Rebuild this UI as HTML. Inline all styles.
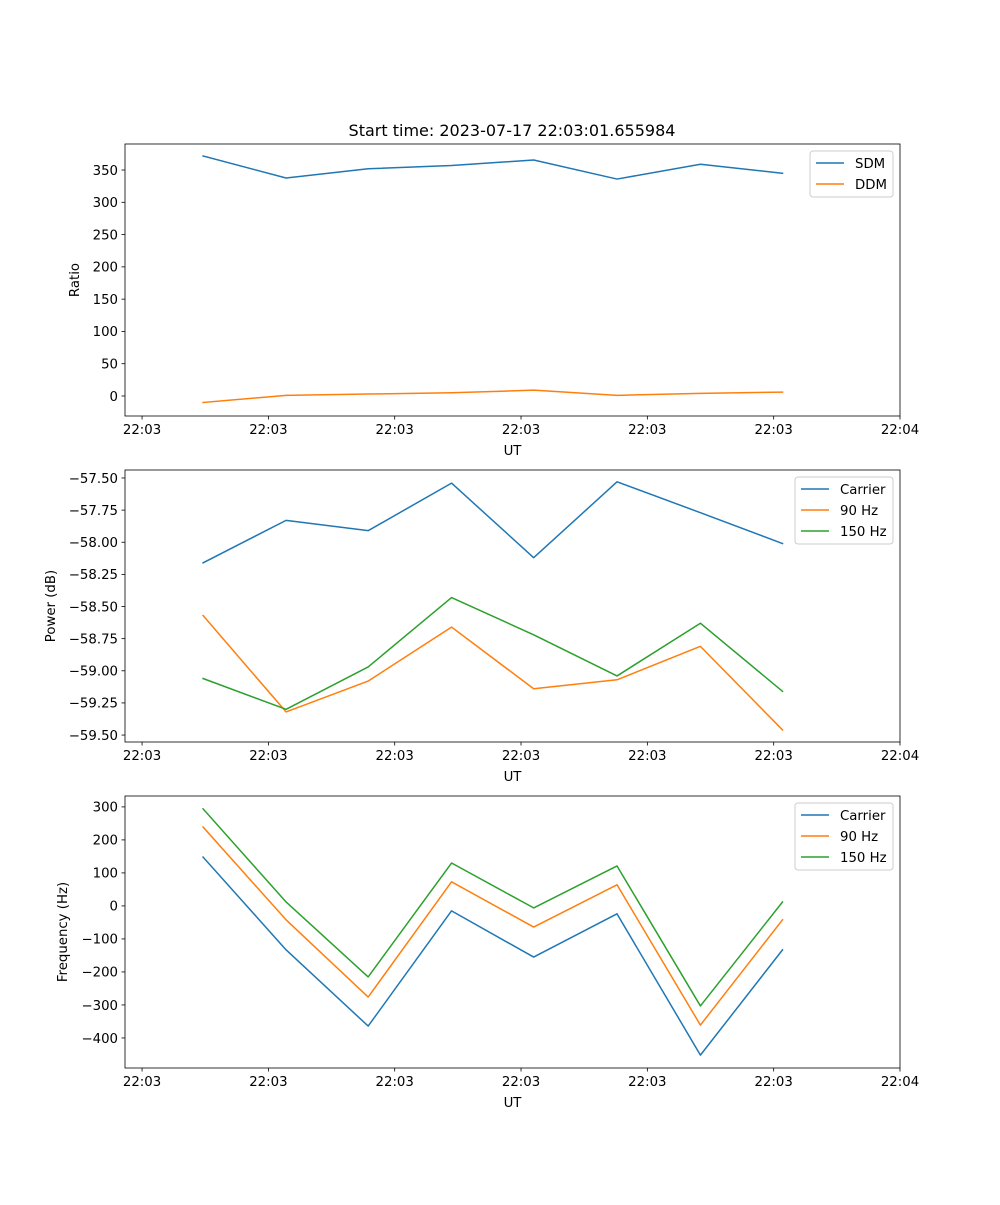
<!DOCTYPE html>
<html><head><meta charset="utf-8">
<style>
html,body{margin:0;padding:0;background:#fff;}
svg text{font-family:"DejaVu Sans","Liberation Sans",sans-serif;font-size:13.3px;fill:#000;}
</style></head>
<body>
<svg id="fig" width="1000" height="1200" xmlns="http://www.w3.org/2000/svg">
<rect width="1000" height="1200" fill="#fff"/>
<text x="512" y="136" text-anchor="middle" style="font-size:16px">Start time: 2023-07-17 22:03:01.655984</text>
</svg>
<script>
// time in seconds after 22:03:00
const times = [4.83, 11.4, 17.9, 24.5, 31.0, 37.6, 44.2, 50.7];
const xTickVals = [0, 10, 20, 30, 40, 50, 60];
const xTickLabels = ["22:03","22:03","22:03","22:03","22:03","22:03","22:04"];

const sdm = [371.7, 337.6, 352, 357, 365.5, 336, 359, 345];
const ddm = [-10, 1, 3, 5, 9, 1, 4, 6];
const ratioTicks = [0, 50, 100, 150, 200, 250, 300, 350];

const pCarrier = [-58.16, -57.83, -57.91, -57.54, -58.12, -57.53, -57.77, -58.01];
const p90 = [-58.57, -59.32, -59.08, -58.66, -59.14, -59.07, -58.81, -59.46];
const p150 = [-59.06, -59.30, -58.97, -58.43, -58.72, -59.04, -58.63, -59.16];
const powerTicks = [-59.5, -59.25, -59.0, -58.75, -58.5, -58.25, -58.0, -57.75, -57.5];

const fCarrier = [148, -133, -364, -15, -155, -24, -452, -133];
const f90 = [239, -42, -276, 73, -64, 64, -361, -42];
const f150 = [294, 12, -215, 130, -6, 121, -303, 12];
const freqTicks = [-400, -300, -200, -100, 0, 100, 200, 300];

const NS = "http://www.w3.org/2000/svg";
const svg = document.getElementById('fig');
const L = 125, R = 900;
const xMin = -1.35, xMax = 60;
function xs(v){ return L + (v - xMin) / (xMax - xMin) * (R - L); }
function mk(tag, attrs, parent){
  const e = document.createElementNS(NS, tag);
  for (const k in attrs) e.setAttribute(k, attrs[k]);
  (parent || svg).appendChild(e); return e;
}
function fmt(v, dec){ const s = Math.abs(v).toFixed(dec); return (v < 0 ? "\u2212" : "") + s; }

function panel(name, top, bottom, yMin, yMax, yTicks, dec, ylabel, ylabelX, series, legendW){
  const g = mk('g', {});
  
  
  const ys = v => bottom - (v - yMin) / (yMax - yMin) * (bottom - top);
  series.forEach(s => {
    const pts = times.map((t, i) => xs(t).toFixed(2) + ',' + ys(s.vals[i]).toFixed(2)).join(' ');
    const pl = mk('polyline', {points: pts, fill: 'none', stroke: s.color, 'stroke-width': 1.5, 'stroke-linejoin': 'round', 'stroke-linecap': 'square'}, g);
    
    
  });
  const fr = mk('rect', {x: L, y: top, width: R - L, height: bottom - top, fill: 'none', stroke: '#000', 'stroke-width': 0.8}, g);
  
  
  xTickVals.forEach((v, i) => {
    const x = xs(v);
    mk('line', {x1: x, x2: x, y1: bottom, y2: bottom + 3.5, stroke: '#000', 'stroke-width': 0.8}, g);
    const t = mk('text', {x: x, y: bottom + 18, 'text-anchor': 'middle'}, g);
    t.textContent = xTickLabels[i];
    
    
  });
  const xl = mk('text', {x: (L + R) / 2, y: bottom + 39, 'text-anchor': 'middle'}, g);
  xl.textContent = 'UT';
  
  
  yTicks.forEach(v => {
    const y = ys(v);
    mk('line', {x1: L - 3.5, x2: L, y1: y, y2: y, stroke: '#000', 'stroke-width': 0.8}, g);
    const t = mk('text', {x: L - 7, y: y + 4.8, 'text-anchor': 'end'}, g);
    t.textContent = fmt(v, dec);
    
    
  });
  const yl = mk('text', {x: ylabelX, y: (top + bottom) / 2, 'text-anchor': 'middle', transform: 'rotate(-90 ' + ylabelX + ' ' + (top + bottom) / 2 + ')'}, g);
  yl.textContent = ylabel;
  
  
  const lg = mk('g', {}, g);
  
  
  const lh = 4 + series.length * 21;
  const lx = R - 7 - legendW, ly = top + 7;
  mk('rect', {x: lx, y: ly, width: legendW, height: lh, rx: 3, fill: '#fff', 'fill-opacity': 0.8, stroke: '#ccc', 'stroke-width': 1}, lg);
  series.forEach((s, i) => {
    const yy = ly + 12 + i * 21;
    const ln = mk('line', {x1: lx + 6, x2: lx + 34, y1: yy, y2: yy, stroke: s.color, 'stroke-width': 1.5}, lg);
    
    
    const t = mk('text', {x: lx + 45, y: yy + 5}, lg);
    t.textContent = s.label;
    
    
  });
}

panel('ratio', 144, 416, -31, 390.3, ratioTicks, 0, 'Ratio', 79,
  [{key: 'sdm', label: 'SDM', vals: sdm, color: '#1f77b4'},
   {key: 'ddm', label: 'DDM', vals: ddm, color: '#ff7f0e'}], 83);
panel('power', 470, 742, -59.554, -57.438, powerTicks, 2, 'Power (dB)', 55,
  [{key: 'carrier', label: 'Carrier', vals: pCarrier, color: '#1f77b4'},
   {key: '90hz', label: '90 Hz', vals: p90, color: '#ff7f0e'},
   {key: '150hz', label: '150 Hz', vals: p150, color: '#2ca02c'}], 98);
panel('frequency', 796, 1068, -491, 333, freqTicks, 0, 'Frequency (Hz)', 67,
  [{key: 'carrier', label: 'Carrier', vals: fCarrier, color: '#1f77b4'},
   {key: '90hz', label: '90 Hz', vals: f90, color: '#ff7f0e'},
   {key: '150hz', label: '150 Hz', vals: f150, color: '#2ca02c'}], 98);
</script>
</body></html>
